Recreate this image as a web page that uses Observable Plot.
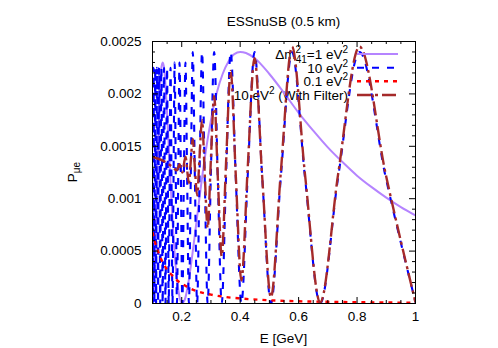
<!DOCTYPE html>
<html>
<head>
<meta charset="utf-8">
<script src="https://cdn.jsdelivr.net/npm/d3@7"></script>
<script src="https://cdn.jsdelivr.net/npm/@observablehq/plot@0.6"></script>
<style>
  html, body { margin: 0; padding: 0; background: white; }
  #chart svg { display: block; }
</style>
</head>
<body>
<div id="chart"></div>
<script>
// ---- data ----
const titleText = "ESSnuSB (0.5 km)";
const xTicks = [0.2, 0.4, 0.6, 0.8, 1];
const xTickLabels = ["0.2", "0.4", "0.6", "0.8", "1"];
const xMinorTicks = [0.15, 0.25, 0.3, 0.35, 0.45, 0.5, 0.55, 0.65, 0.7, 0.75, 0.85, 0.9, 0.95];
const yTicks = [0, 0.0005, 0.001, 0.0015, 0.002, 0.0025];
const yTickLabels = ["0", "0.0005", "0.001", "0.0015", "0.002", "0.0025"];
const yMinorTicks = [0.0001, 0.0002, 0.0003, 0.0004, 0.0006, 0.0007, 0.0008, 0.0009,
  0.0011, 0.0012, 0.0013, 0.0014, 0.0016, 0.0017, 0.0018, 0.0019,
  0.0021, 0.0022, 0.0023, 0.0024];

// Δm²41 = 1 eV²
const purpleE = [0.1, 0.105, 0.11, 0.115, 0.12, 0.125, 0.13, 0.135, 0.14, 0.15, 0.16, 0.17, 0.18, 0.19, 0.2,
  0.21, 0.22, 0.24, 0.26, 0.28, 0.3, 0.32, 0.34, 0.36, 0.38, 0.4, 0.42, 0.45, 0.5, 0.55, 0.6, 0.65, 0.7,
  0.75, 0.8, 0.85, 0.9, 0.95, 1.0];
const purpleP = [0.00001, 0.000125, 0.00055, 0.0011, 0.00161, 0.002, 0.00224, 0.0023, 0.00224, 0.00181,
  0.00125, 0.00072, 0.00033, 0.0001, 0.000003, 0.000033, 0.000154, 0.000544, 0.000994, 0.00141, 0.00175,
  0.00201, 0.00219, 0.00231, 0.00238, 0.0024, 0.00239, 0.00234, 0.00219, 0.00201, 0.00182, 0.00165,
  0.00149, 0.00135, 0.00122, 0.00111, 0.00101, 0.00092, 0.00084];

// 10 eV²
const blueE = [0.1, 0.10106, 0.10234, 0.10365, 0.105, 0.10638, 0.1078, 0.10926, 0.11075, 0.11229, 0.11387,
  0.1155, 0.11718, 0.1189, 0.12067, 0.1225, 0.12439, 0.12633, 0.12834, 0.1304, 0.13254, 0.13475, 0.13704,
  0.1394, 0.14184, 0.14438, 0.147, 0.14972, 0.15255, 0.15548, 0.15853, 0.1617, 0.165, 0.16844, 0.17202,
  0.17576, 0.17967, 0.18375, 0.18802, 0.1925, 0.1972, 0.20213, 0.20731, 0.21277, 0.21852, 0.22459, 0.231,
  0.2378, 0.245, 0.25266, 0.26081, 0.2695, 0.2788, 0.28875, 0.29945, 0.31097, 0.3234, 0.33688, 0.35153,
  0.3675, 0.385, 0.40426, 0.42553, 0.44917, 0.47559, 0.50532, 0.53901, 0.57751, 0.62193, 0.67376, 0.73501,
  0.80851, 0.89834, 1.0];
const blueP = [0.00092,
  0, 0.0012, 0.00225, 0.0012,
  0, 0.0012, 0.00225, 0.0012,
  0, 0.0012, 0.00225, 0.0012,
  0, 0.0012, 0.00225, 0.0012,
  0, 0.0012, 0.00225, 0.0012,
  0, 0.0012, 0.00225, 0.0012,
  0, 0.0012, 0.00225, 0.0012,
  0, 0.0012, 0.00225, 0.0012,
  0, 0.0012, 0.0023, 0.0012,
  0, 0.0012, 0.0023, 0.0012,
  0, 0.0012, 0.0023, 0.0012,
  0, 0.0012, 0.0024, 0.0012,
  0, 0.0012, 0.0024, 0.0012,
  0, 0.0012, 0.0024, 0.0012,
  0, 0.0012, 0.0024, 0.0012,
  0, 0.0012, 0.0024, 0.0012,
  0, 0.0012, 0.0024, 0.0012,
  0, 0.0012, 0.0024, 0.0012,
  0.00001];

// 0.1 eV²
const redE = [0.1, 0.11, 0.12, 0.13, 0.14, 0.15, 0.16, 0.18, 0.2, 0.22, 0.25, 0.3, 0.35, 0.4, 0.5, 0.6, 0.7, 0.8, 0.9, 1.0];
const redP = [0.00068, 0.00057, 0.00049, 0.00042, 0.00037, 0.00032, 0.00029, 0.00023, 0.00019, 0.000156, 0.00012,
  0.000085, 0.000062, 0.000048, 0.000031, 0.000021, 0.000016, 0.000012, 0.0000095, 0.0000077];

// 10 eV² (With Filter)
const brownE = [0.1, 0.11, 0.13, 0.15, 0.17, 0.18375, 0.1925, 0.20213, 0.21277, 0.22459, 0.231, 0.2378, 0.245,
  0.25266, 0.26081, 0.2695, 0.2788, 0.28875, 0.29945, 0.31097, 0.3234, 0.33688, 0.35153, 0.3675, 0.385,
  0.40426, 0.42553, 0.44917, 0.47559, 0.50532, 0.53901, 0.57751, 0.62193, 0.67376, 0.73501, 0.80851,
  0.89834, 1.0];
const brownP = [0.0014, 0.00139, 0.00137, 0.00134, 0.0013, 0.00127, 0.00133, 0.00125, 0.0014, 0.00115,
  0.00136, 0.00157, 0.0013, 0.00103, 0.00139, 0.00175, 0.00123, 0.00072, 0.00135, 0.00198, 0.00121,
  0.00045, 0.00133, 0.00222, 0.00122, 0.00022, 0.00128, 0.00234, 0.0012, 0.00006, 0.00125, 0.00245,
  0.00123, 0.00001, 0.00123, 0.00245, 0.00123, 0.00001];

const series = [
  {E: purpleE, P: purpleP, color: "#b584ff", width: 2, dash: null},
  {E: blueE, P: blueP, color: "#0000ff", width: 2.1, dash: "7,8"},
  {E: redE, P: redP, color: "#ff0000", width: 2.4, dash: "4,5"},
  {E: brownE, P: brownP, color: "#a52a2a", width: 2.4, dash: "14,4,3,4"}
];

// ---- layout ----
const W = 498, H = 348;
const mL = 152, mR = 83, mT = 41, mB = 45;
const plotW = W - mL - mR, plotH = H - mT - mB;
const majorLen = 6, minorLen = 3;
const FONT = "'Liberation Sans', Arial, Helvetica, sans-serif";
const FS = 13.5, FS_SMALL = 10;

const tickMarks = (vals, len) => [
  Plot.tickX(vals, {x: d => d, insetTop: plotH - len, stroke: "black", strokeWidth: 1}),
  Plot.tickX(vals, {x: d => d, insetBottom: plotH - len, stroke: "black", strokeWidth: 1})
];
const tickMarksY = (vals, len) => [
  Plot.tickY(vals, {y: d => d, insetRight: plotW - len, stroke: "black", strokeWidth: 1}),
  Plot.tickY(vals, {y: d => d, insetLeft: plotW - len, stroke: "black", strokeWidth: 1})
];

const lineMarks = series.map(s => Plot.line(
  s.E.map((e, i) => ({E: e, P: s.P[i]})),
  {x: "E", y: "P", stroke: s.color, strokeWidth: s.width, strokeDasharray: s.dash,
   curve: "monotone-x", clip: true, strokeLinejoin: "round", strokeLinecap: "butt"}
));

const chart = Plot.plot({
  width: W, height: H,
  marginLeft: mL, marginRight: mR, marginTop: mT, marginBottom: mB,
  style: {fontFamily: FONT, fontSize: FS + "px", background: "white", color: "black"},
  x: {domain: [0.1, 1]},
  y: {domain: [0, 0.0025]},
  marks: [
    ...lineMarks,
    ...tickMarks(xTicks, majorLen),
    ...tickMarks(xMinorTicks, minorLen),
    ...tickMarksY(yTicks, majorLen),
    ...tickMarksY(yMinorTicks, minorLen),
    Plot.frame({stroke: "black", strokeWidth: 1}),
    Plot.axisX({ticks: xTicks, tickFormat: (d) => xTickLabels[xTicks.indexOf(d)], tickSize: 0,
      tickPadding: 8, label: null, fontSize: FS}),
    Plot.axisY({ticks: yTicks, tickFormat: (d) => yTickLabels[yTicks.indexOf(d)], tickSize: 0,
      tickPadding: 11, label: null, fontSize: FS})
  ]
});
document.getElementById("chart").appendChild(chart);

// ---- text: title, axis labels, legend ----
const svg = d3.select(chart);
const cx = mL + plotW / 2;
svg.append("text").attr("x", cx).attr("y", 26).attr("text-anchor", "middle")
  .attr("font-family", FONT).attr("font-size", FS).attr("fill", "black").text(titleText);
svg.append("text").attr("x", cx).attr("y", 343).attr("text-anchor", "middle")
  .attr("font-family", FONT).attr("font-size", FS).attr("fill", "black").text("E [GeV]");
const yl = svg.append("text").attr("transform", `translate(77,${mT + plotH / 2}) rotate(-90)`)
  .attr("text-anchor", "middle").attr("font-family", FONT).attr("font-size", FS).attr("fill", "black");
yl.append("tspan").text("P");
yl.append("tspan").attr("font-size", FS_SMALL).attr("dy", 3).text("μe");

// legend text behind the curves
const leg = svg.insert("g", ":first-child").attr("font-family", FONT).attr("font-size", FS).attr("fill", "black");
svg.insert("rect", ":first-child").attr("width", W).attr("height", H).attr("fill", "white");
const rowY = [54, 67.7, 81.3, 95];
const textX = 348;
function addRow(y, build) {
  const t = leg.append("text").attr("x", textX).attr("y", y + 5).attr("text-anchor", "end");
  build(t);
}
addRow(rowY[0], t => {
  t.append("tspan").text("Δm");
  t.append("tspan").attr("font-size", FS_SMALL).attr("dy", -6).text("2");
  t.append("tspan").attr("font-size", FS_SMALL).attr("dx", -5.5).attr("dy", 10).text("41");
  t.append("tspan").attr("dy", -4).text("=1 eV");
  t.append("tspan").attr("font-size", FS_SMALL).attr("dy", -6).text("2");
});
addRow(rowY[1], t => {
  t.append("tspan").text("10 eV");
  t.append("tspan").attr("font-size", FS_SMALL).attr("dy", -6).text("2");
});
addRow(rowY[2], t => {
  t.append("tspan").text("0.1 eV");
  t.append("tspan").attr("font-size", FS_SMALL).attr("dy", -6).text("2");
});
addRow(rowY[3], t => {
  t.append("tspan").text("10 eV");
  t.append("tspan").attr("font-size", FS_SMALL).attr("dy", -6).text("2");
  t.append("tspan").attr("dy", 6).text(" (With Filter)");
});
// legend samples
series.forEach((s, i) => {
  svg.append("line").attr("x1", 357).attr("x2", 398).attr("y1", rowY[i]).attr("y2", rowY[i])
    .attr("stroke", s.color).attr("stroke-width", s.width)
    .attr("stroke-dasharray", s.dash).attr("fill", "none");
});
</script>
</body>
</html>
